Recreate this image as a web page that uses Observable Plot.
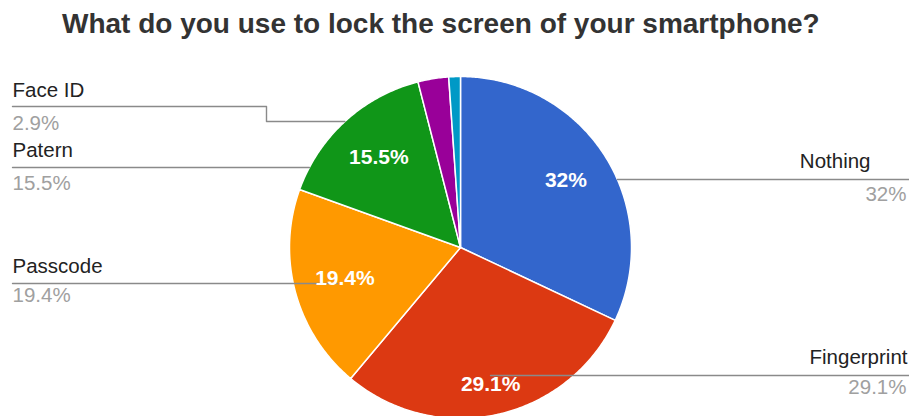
<!DOCTYPE html>
<html><head><meta charset="utf-8">
<script src="https://cdn.jsdelivr.net/npm/d3@7"></script>
<script src="https://cdn.jsdelivr.net/npm/@observablehq/plot@0.6"></script>
<style>
html,body{margin:0;padding:0;background:#fff;}
#title{font-family:"Liberation Sans",Arial,sans-serif;font-weight:bold;font-size:28px;line-height:28px;color:#333;padding:10px 0 12px 62px;height:28px;white-space:nowrap;}
#chart svg{display:block;}
</style></head><body>
<div id="title">What do you use to lock the screen of your smartphone?</div>
<div id="chart"></div>
<script>
// ---- data ----
const categories = ["Nothing", "Fingerprint", "Passcode", "Patern", "Face ID", "Other"];
const values = [32, 29.1, 19.4, 15.5, 2.9, 1.1];
const valueLabels = ["32%", "29.1%", "19.4%", "15.5%", "2.9%", "1.1%"];
const colors = ["#3366cc", "#dc3912", "#ff9900", "#109618", "#990099", "#0099c6"];

// ---- layout (page pixels) ----
const W = 909, H = 416, TOP = 50, CX = 460, CY = 247, R = 171;
const innerRadius = [0.73, 0.82, 0.70, 0.71]; // radial position of inside labels
const NAME_FS = 20.5, INNER_FS = 21;
// outer label rows: name baseline, percent baseline, leader line y
const outerRows = [
  {name: "Nothing",     side: 1,  nameX: 870, pctX: 906, nameBase: 167, pctBase: 200, lineY: 179},
  {name: "Fingerprint", side: 1,  nameX: 907, pctX: 906, nameBase: 363, pctBase: 393, lineY: 375, innerX: 490},
  {name: "Passcode",    side: -1, nameX: 12,  pctX: 12,  nameBase: 272, pctBase: 301, lineY: 283, innerX: 337},
  {name: "Patern",      side: -1, nameX: 12,  pctX: 12,  nameBase: 156, pctBase: 189, lineY: 167},
  {name: "Face ID",     side: -1, nameX: 12,  pctX: 12,  nameBase: 96,  pctBase: 129, lineY: 106, elbowX: 266, elbowY: 121}
];

const ux = px => (px - CX) / R;
const uy = py => (CY - py) / R;
const edgeX = (py, side) => CX + side * Math.sqrt(R * R - (CY - py) ** 2);

// ---- pie geometry from values ----
const arcs = d3.pie().sort(null).value(d => d)(values);
const pieVerts = [];
arcs.forEach((a, i) => {
  const name = categories[i];
  pieVerts.push({name, x: 0, y: 0});
  const n = Math.max(2, Math.ceil((a.endAngle - a.startAngle) / 0.01));
  for (let k = 0; k <= n; k++) {
    const t = a.startAngle + (a.endAngle - a.startAngle) * k / n;
    pieVerts.push({name, x: Math.sin(t), y: Math.cos(t)});
  }
  pieVerts.push({name, x: 0, y: 0});
});

const innerLabels = arcs.slice(0, 4).map((a, i) => {
  const m = (a.startAngle + a.endAngle) / 2;
  return {text: valueLabels[i], x: innerRadius[i] * Math.sin(m), y: innerRadius[i] * Math.cos(m)};
});

// leader lines
const leaders = [];
outerRows.forEach(r => {
  const pts = [];
  if (r.side < 0) {
    pts.push([12, r.lineY]);
    if (r.elbowX != null) { pts.push([r.elbowX, r.lineY]); pts.push([r.elbowX, r.elbowY]); pts.push([edgeX(r.elbowY, -1), r.elbowY]); }
    else pts.push([r.innerX != null ? r.innerX : edgeX(r.lineY, -1), r.lineY]);
  } else {
    pts.push([r.innerX != null ? r.innerX : edgeX(r.lineY, 1), r.lineY]);
    pts.push([W, r.lineY]);
  }
  pts.forEach(p => leaders.push({name: r.name, x: ux(p[0]), y: uy(p[1])}));
});

const idx = name => categories.indexOf(name);
const nameLabels = outerRows.map(r => ({side: r.side, text: r.name, x: ux(r.nameX), y: uy(r.nameBase - 0.32 * NAME_FS)}));
const pctLabels = outerRows.map(r => ({side: r.side, text: valueLabels[idx(r.name)], x: ux(r.pctX), y: uy(r.pctBase - 0.32 * NAME_FS)}));

const chart = Plot.plot({
  width: W, height: H - TOP, margin: 0,
  x: {domain: [ux(0), ux(W)], range: [0, W], axis: null},
  y: {domain: [uy(TOP), uy(H)], range: [0, H - TOP], axis: null},
  color: {domain: categories, range: colors},
  style: {fontFamily: "'Liberation Sans', Arial, sans-serif", background: "#fff", overflow: "hidden"},
  marks: [
    Plot.line(pieVerts, {x: "x", y: "y", z: "name", fill: "name", stroke: "#fff", strokeWidth: 1.5, strokeLinejoin: "round", curve: "linear"}),
    Plot.line(leaders, {x: "x", y: "y", z: "name", stroke: "#8a8a8a", strokeWidth: 1.4, curve: "linear"}),
    Plot.text(innerLabels, {x: "x", y: "y", text: "text", fill: "#fff", fontSize: INNER_FS, fontWeight: "bold"}),
    Plot.text(nameLabels.filter(d => d.side < 0), {x: "x", y: "y", text: "text", fill: "#222", fontSize: NAME_FS, textAnchor: "start"}),
    Plot.text(nameLabels.filter(d => d.side > 0), {x: "x", y: "y", text: "text", fill: "#222", fontSize: NAME_FS, textAnchor: "end"}),
    Plot.text(pctLabels.filter(d => d.side < 0), {x: "x", y: "y", text: "text", fill: "#a0a0a0", fontSize: NAME_FS, textAnchor: "start"}),
    Plot.text(pctLabels.filter(d => d.side > 0), {x: "x", y: "y", text: "text", fill: "#a0a0a0", fontSize: NAME_FS, textAnchor: "end"})
  ]
});
document.getElementById("chart").appendChild(chart);
</script>
</body></html>
